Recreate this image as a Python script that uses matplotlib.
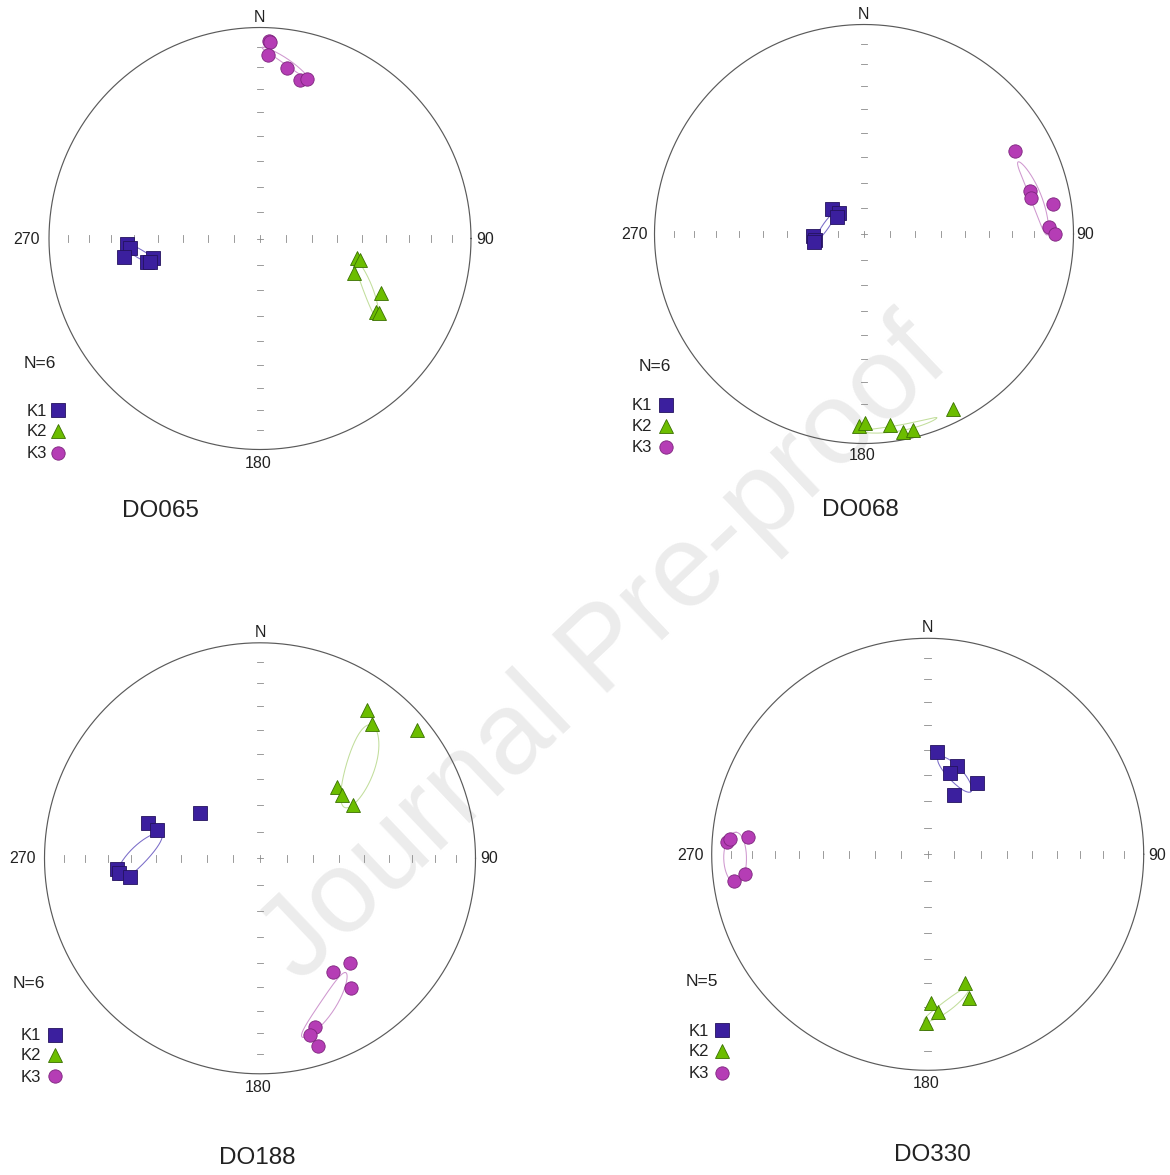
import numpy as np
import matplotlib
matplotlib.use("Agg")
import matplotlib.pyplot as plt

plt.rcParams['font.family'] = ['Liberation Sans', 'DejaVu Sans']

# ---------------------------------------------------------------
# AMS principal axes per site: trend / plunge in degrees
# ---------------------------------------------------------------
sites = ["DO065", "DO068", "DO188", "DO330"]
n_specimens = [6, 6, 6, 5]
axis_names = ["K1", "K2", "K3"]

# DO065
do065_k1_trend = [267.6, 266.0, 262.3, 259.6, 258.2, 257.9]
do065_k1_plunge = [36.9, 38.2, 35.2, 47.4, 44.6, 45.9]
do065_k2_trend = [101.6, 102.2, 110.3, 114.4, 122.2, 122.1]
do065_k2_plunge = [51.3, 50.1, 50.7, 37.3, 35.3, 33.7]
do065_k3_trend = [2.7, 2.9, 2.6, 8.9, 14.1, 16.4]
do065_k3_plunge = [6.8, 7.3, 14.0, 19.4, 23.6, 22.3]

# DO068
do068_k1_trend = [307.4, 310.0, 302.0, 267.7, 263.0, 260.9]
do068_k1_plunge = [74.2, 77.5, 77.8, 70.3, 70.8, 70.3]
do068_k2_trend = [181.4, 179.7, 172.2, 168.9, 166.0, 153.2]
do068_k2_plunge = [9.1, 10.8, 8.8, 4.3, 4.0, 6.9]
do068_k3_trend = [61.2, 75.5, 77.9, 81.0, 87.7, 90.0]
do068_k3_plunge = [18.9, 19.2, 19.7, 9.6, 12.5, 9.6]

# DO188
do188_k1_trend = [307.2, 287.7, 285.3, 265.6, 264.0, 261.7]
do188_k1_plunge = [61.3, 44.7, 48.9, 33.9, 34.5, 38.9]
do188_k2_trend = [35.7, 39.7, 50.8, 47.4, 52.4, 60.3]
do188_k2_plunge = [16.3, 20.0, 6.4, 49.7, 50.1, 48.7]
do188_k3_trend = [147.3, 139.2, 145.1, 162.0, 164.2, 162.7]
do188_k3_plunge = [37.6, 36.2, 27.3, 18.6, 15.9, 9.6]

# DO330
do330_k1_trend = [5.0, 18.1, 15.4, 34.7, 23.9]
do330_k1_plunge = [50.6, 54.4, 58.0, 56.8, 65.5]
do330_k2_trend = [163.8, 163.9, 178.8, 176.1, 180.6]
do330_k2_plunge = [38.1, 31.2, 31.6, 27.8, 23.1]
do330_k3_trend = [273.4, 274.3, 275.6, 262.2, 263.8]
do330_k3_plunge = [7.5, 9.0, 17.6, 10.4, 16.0]

# Confidence ellipses: mean trend, mean plunge, semi-major, semi-minor (deg),
# azimuth of the major axis
do065_ell = [(262.6, 42.2, 7.5, 1.6, 115), (115.1, 42.9, 12.0, 1.8, 154), (8.7, 16.5, 10.0, 1.2, 136)]
do068_ell = [(281.9, 74.9, 6.5, 1.2, 35), (169.5, 6.5, 11.0, 1.5, 80), (77.8, 17.2, 12.5, 2.6, 153)]
do188_ell = [(271.1, 42.8, 12.0, 3.4, 50), (47.5, 36.7, 17.5, 5.0, 24), (155.8, 25.4, 14.0, 3.0, 24)]
do330_ell = [(18.8, 57.7, 8.7, 2.8, 139), (172.6, 30.0, 10.0, 2.0, 45), (268.9, 11.7, 7.5, 5.5, 0)]

site_axes = {
    "DO065": [(do065_k1_trend, do065_k1_plunge), (do065_k2_trend, do065_k2_plunge), (do065_k3_trend, do065_k3_plunge)],
    "DO068": [(do068_k1_trend, do068_k1_plunge), (do068_k2_trend, do068_k2_plunge), (do068_k3_trend, do068_k3_plunge)],
    "DO188": [(do188_k1_trend, do188_k1_plunge), (do188_k2_trend, do188_k2_plunge), (do188_k3_trend, do188_k3_plunge)],
    "DO330": [(do330_k1_trend, do330_k1_plunge), (do330_k2_trend, do330_k2_plunge), (do330_k3_trend, do330_k3_plunge)],
}
site_ellipses = {"DO065": do065_ell, "DO068": do068_ell, "DO188": do188_ell, "DO330": do330_ell}

# ---------------------------------------------------------------
# Styling
# ---------------------------------------------------------------
marker_style = [
    dict(marker='s', ms=9.6, mfc='#3b1f9e', mec='#24125e', mew=0.6),
    dict(marker='^', ms=10.5, mfc='#6cbd00', mec='#3a7000', mew=0.6),
    dict(marker='o', ms=9.6, mfc='#b53db5', mec='#7d247d', mew=0.6),
]
ellipse_color = ['#7a6cc8', '#c2de9c', '#cf98cf']
net_color = '#5a5a5a'
tick_color = '#8a8a8a'
text_color = '#222222'

W, H = 1170, 1175
fig = plt.figure(figsize=(W / 100, H / 100), dpi=100)
fig.patch.set_facecolor('white')

# Watermark behind the nets
fig.text(0.517, 0.445, "Journal Pre-proof", rotation=43.5, fontsize=84,
         color='#ececec', ha='center', va='center', zorder=-5)

# Panel layout (pixel positions on the page)
layout = [
    dict(cx=260.0, cy=238.5, R=211.0, N=(259, 17), E=(485, 240), S=(258, 464), Wl=(27, 240),
         count=(40, 363), ktx=37, kmx=58, ky=(411, 432, 454), title=(160, 511)),
    dict(cx=864.0, cy=234.0, R=209.5, N=(863, 15), E=(1085, 235), S=(862, 456), Wl=(634, 235),
         count=(655, 367), ktx=642, kmx=666, ky=(406, 427, 448), title=(860, 510)),
    dict(cx=260.0, cy=858.3, R=215.5, N=(260, 632), E=(489, 858), S=(258, 1088), Wl=(22, 858),
         count=(29, 983), ktx=31, kmx=55, ky=(1036, 1056, 1077), title=(257, 1158)),
    dict(cx=927.7, cy=854.3, R=216.0, N=(927, 627), E=(1157, 855), S=(926, 1083), Wl=(690, 855),
         count=(702, 982), ktx=699, kmx=722, ky=(1031, 1052, 1074), title=(932, 1155)),
]


def project(trend, plunge):
    """Lower-hemisphere equal-area (Schmidt) projection onto the unit circle."""
    t = np.radians(np.asarray(trend, float))
    p = np.radians(np.asarray(plunge, float))
    r = np.sqrt(1.0 - np.sin(p))
    return r * np.sin(t), r * np.cos(t)


def project_vectors(v):
    e, n, d = v
    flip = d < 0
    e, n, d = np.where(flip, -e, e), np.where(flip, -n, n), np.abs(d)
    h = np.hypot(e, n)
    h = np.where(h == 0, 1, h)
    r = np.sqrt(np.clip(1.0 - d, 0, None))
    x, y = r * e / h, r * n / h
    # break the outline where it wraps across the primitive
    jump = np.hypot(np.diff(x), np.diff(y)) > 0.5
    if jump.any():
        idx = np.where(jump)[0] + 1
        x = np.insert(x, idx, np.nan)
        y = np.insert(y, idx, np.nan)
    return x, y


def cone_ellipse(trend, plunge, a, b, az, n=240):
    T, P = np.radians(trend), np.radians(plunge)
    m = np.array([np.cos(P) * np.sin(T), np.cos(P) * np.cos(T), np.sin(P)])
    u = np.array([np.sin(P) * np.sin(T), np.sin(P) * np.cos(T), -np.cos(P)])
    v = np.array([np.cos(T), -np.sin(T), 0.0])
    g = np.radians(az) - T
    A = np.cos(g) * u + np.sin(g) * v
    B = -np.sin(g) * u + np.cos(g) * v
    t = np.linspace(0, 2 * np.pi, n)
    pts = (m[:, None] + np.tan(np.radians(a)) * np.cos(t) * A[:, None]
           + np.tan(np.radians(b)) * np.sin(t) * B[:, None])
    pts /= np.linalg.norm(pts, axis=0)
    return project_vectors(pts)


tick_plunges = np.arange(10, 90, 10)
half = 300

for site, count, lay in zip(sites, n_specimens, layout):
    cx, cy, R = lay['cx'], lay['cy'], lay['R']
    ax = fig.add_axes([(cx - half) / W, 1 - (cy + half) / H, 2 * half / W, 2 * half / H])
    lim = half / R
    ax.set_xlim(-lim, lim)
    ax.set_ylim(-lim, lim)
    ax.axis('off')
    ax.patch.set_visible(False)

    def at(px, py):
        return (px - cx) / R, (cy - py) / R

    # primitive circle
    th = np.linspace(0, 2 * np.pi, 721)
    ax.plot(np.cos(th), np.sin(th), color=net_color, lw=0.85, zorder=2)

    # graduated cross
    rt = np.sqrt(1 - np.sin(np.radians(tick_plunges)))
    tl = 0.016
    for r in rt:
        for s in (-1, 1):
            ax.plot([s * r, s * r], [-tl, tl], color=tick_color, lw=0.6, zorder=2)
            ax.plot([-tl, tl], [s * r, s * r], color=tick_color, lw=0.6, zorder=2)
    ax.plot([-tl, tl], [0, 0], color=tick_color, lw=0.6, zorder=2)
    ax.plot([0, 0], [-tl, tl], color=tick_color, lw=0.6, zorder=2)

    # confidence ellipses
    for k, (tr, pl, a, b, az) in enumerate(site_ellipses[site]):
        ex, ey = cone_ellipse(tr, pl, a, b, az)
        ax.plot(ex, ey, color=ellipse_color[k], lw=0.75, zorder=3)

    # principal axes (K3 first so K1 stays on top)
    for k in (2, 1, 0):
        tr, pl = site_axes[site][k]
        x, y = project(tr, pl)
        ax.plot(x, y, ls='none', zorder=4 + (2 - k), **marker_style[k])

    # compass labels
    for key, txt in (('N', 'N'), ('E', '90'), ('S', '180'), ('Wl', '270')):
        ax.text(*at(*lay[key]), txt, fontsize=11.5, color=text_color,
                ha='center', va='center', clip_on=False)

    ax.text(*at(*lay['count']), f"N={count}", fontsize=12.5, color=text_color,
            ha='center', va='center', clip_on=False)

    for k in range(3):
        ax.text(*at(lay['ktx'], lay['ky'][k]), axis_names[k], fontsize=12, color=text_color,
                ha='center', va='center', clip_on=False)
        mx, my = at(lay['kmx'], lay['ky'][k] - 1)
        ax.plot([mx], [my], ls='none', clip_on=False, zorder=5, **marker_style[k])

    ax.text(*at(*lay['title']), site, fontsize=17.5, color=text_color,
            ha='center', va='center', clip_on=False)

fig.savefig("out.png", dpi=100, facecolor='white')
